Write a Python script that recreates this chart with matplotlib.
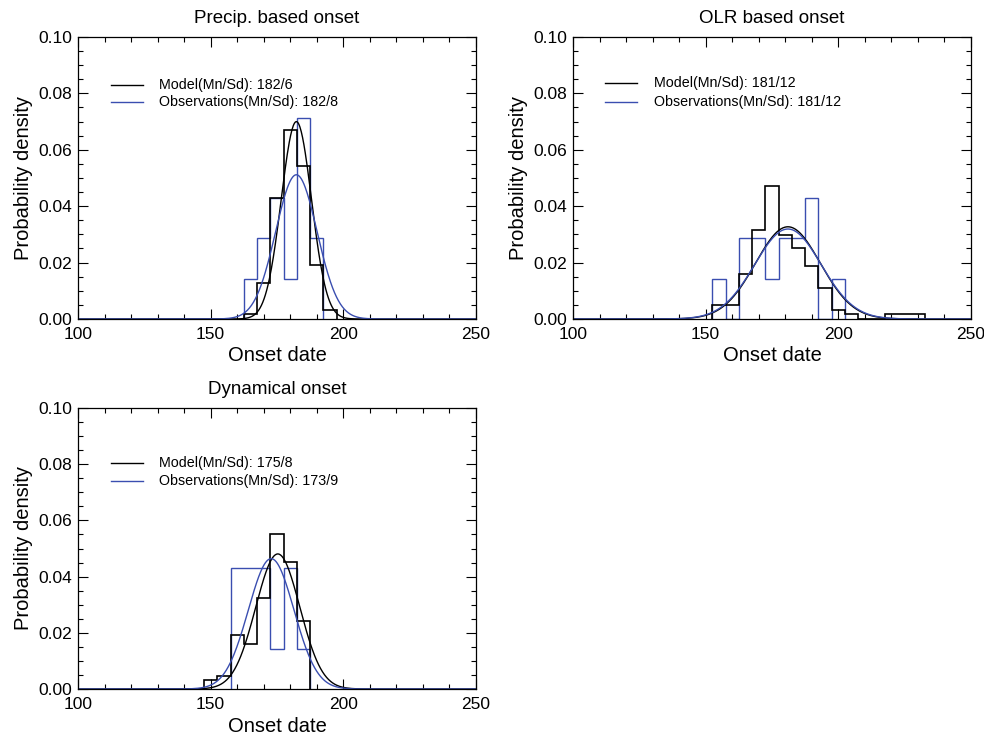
import numpy as np
import matplotlib
matplotlib.use("Agg")
import matplotlib.pyplot as plt
from matplotlib.ticker import MultipleLocator

plt.rcParams['font.family'] = ['Liberation Sans', 'DejaVu Sans']

# 각 패널 데이터 (bin edges / density)
precip_model_edges = [162.5, 167.5, 172.5, 177.5, 182.5, 187.5, 192.5, 197.5]
precip_model_dens = [0.0017, 0.0127, 0.0428, 0.0669, 0.0541, 0.0192, 0.0032]
precip_obs_edges = [162.5, 167.5, 172.5, 177.5, 182.5, 187.5, 192.5]
precip_obs_dens = [0.0143, 0.0286, 0.0429, 0.0143, 0.0714, 0.0286]
precip_fit = {"model": (182.3, 5.7), "obs": (182.3, 7.8)}

olr_model_edges = [152.5, 157.5, 162.5, 167.5, 172.5, 177.5, 182.5, 187.5, 192.5,
                   197.5, 202.5, 207.5, 212.5, 217.5, 222.5, 227.5, 232.5]
olr_model_dens = [0.0048, 0.0048, 0.0158, 0.0316, 0.0473, 0.0299, 0.0253, 0.0188,
                  0.0111, 0.0032, 0.0016, 0.0, 0.0, 0.0016, 0.0016, 0.0016]
olr_obs_edges = [152.5, 157.5, 162.5, 167.5, 172.5, 177.5, 182.5, 187.5, 192.5,
                 197.5, 202.5]
olr_obs_dens = [0.0143, 0.0, 0.0286, 0.0286, 0.0143, 0.0286, 0.0286, 0.0429, 0.0,
                0.0143]
olr_fit = {"model": (181.0, 12.2), "obs": (181.0, 12.5)}

dyn_model_edges = [147.5, 152.5, 157.5, 162.5, 167.5, 172.5, 177.5, 182.5, 187.5]
dyn_model_dens = [0.0032, 0.0047, 0.0193, 0.0160, 0.0323, 0.0551, 0.0453, 0.0242]
dyn_obs_edges = [157.5, 162.5, 167.5, 172.5, 177.5, 182.5, 187.5]
dyn_obs_dens = [0.0429, 0.0429, 0.0429, 0.0143, 0.0429, 0.0143]
dyn_fit = {"model": (175.3, 8.3), "obs": (172.8, 8.6)}

titles = ["Precip. based onset", "OLR based onset", "Dynamical onset"]
legend_model = ["Model(Mn/Sd): 182/6", "Model(Mn/Sd): 181/12", "Model(Mn/Sd): 175/8"]
legend_obs = ["Observations(Mn/Sd): 182/8", "Observations(Mn/Sd): 181/12",
              "Observations(Mn/Sd): 173/9"]

BLUE = "#3a4eb0"
W, H = 984, 737
fig = plt.figure(figsize=(W / 100, H / 100), dpi=100)

# 축 위치 (픽셀)
boxes = [(78, 37, 476, 319), (573, 37, 971, 319), (78, 408, 476, 689)]
data = [
    (precip_model_edges, precip_model_dens, precip_obs_edges, precip_obs_dens, precip_fit),
    (olr_model_edges, olr_model_dens, olr_obs_edges, olr_obs_dens, olr_fit),
    (dyn_model_edges, dyn_model_dens, dyn_obs_edges, dyn_obs_dens, dyn_fit),
]
# 범례 위치 (axes fraction): 선 시작, 텍스트 x, 첫 줄 y, 둘째 줄 y
leg_pos = [(0.083, 0.204, 0.830, 0.770),
           (0.080, 0.204, 0.837, 0.770),
           (0.083, 0.204, 0.804, 0.740)]


def gauss(x, mu, sd):
    return np.exp(-0.5 * ((x - mu) / sd) ** 2) / (sd * np.sqrt(2 * np.pi))


for i, (l, t, r, b) in enumerate(boxes):
    ax = fig.add_axes([l / W, 1 - b / H, (r - l) / W, (b - t) / H])
    me, md, oe, od, fit = data[i]
    x = np.linspace(100, 250, 600)
    ax.stairs(od, oe, color=BLUE, lw=1.0)
    ax.stairs(md, me, color="black", lw=1.2)
    ax.plot(x, gauss(x, *fit["model"]), color="black", lw=1.0)
    ax.plot(x, gauss(x, *fit["obs"]), color=BLUE, lw=1.0)

    ax.set_xlim(100, 250)
    ax.set_ylim(0, 0.1)
    ax.xaxis.set_major_locator(MultipleLocator(50))
    ax.xaxis.set_minor_locator(MultipleLocator(10))
    ax.yaxis.set_major_locator(MultipleLocator(0.02))
    ax.yaxis.set_minor_locator(MultipleLocator(0.005))
    ax.yaxis.set_major_formatter(plt.FormatStrFormatter("%.2f"))
    ax.tick_params(which="both", direction="in", top=True, right=True, labelsize=12.5)
    ax.tick_params(which="major", length=7, width=0.8, pad=4)
    ax.tick_params(which="minor", length=3.5, width=0.8)
    ax.tick_params(axis="x", which="major", pad=6)
    for s in ax.spines.values():
        s.set_linewidth(0.9)
    ax.set_title(titles[i], fontsize=13.5, pad=10)
    ax.set_xlabel("Onset date", fontsize=14.5, labelpad=3)
    ax.set_ylabel("Probability density", fontsize=14.5, labelpad=4)

    lx, tx, y1, y2 = leg_pos[i]
    ax.plot([lx, lx + 0.08], [y1, y1], transform=ax.transAxes, color="black", lw=1.0)
    ax.plot([lx, lx + 0.08], [y2, y2], transform=ax.transAxes, color=BLUE, lw=1.0)
    ax.text(tx, y1, legend_model[i], transform=ax.transAxes, fontsize=10.3, va="center")
    ax.text(tx, y2, legend_obs[i], transform=ax.transAxes, fontsize=10.3, va="center")

fig.savefig("out.png", dpi=100)
